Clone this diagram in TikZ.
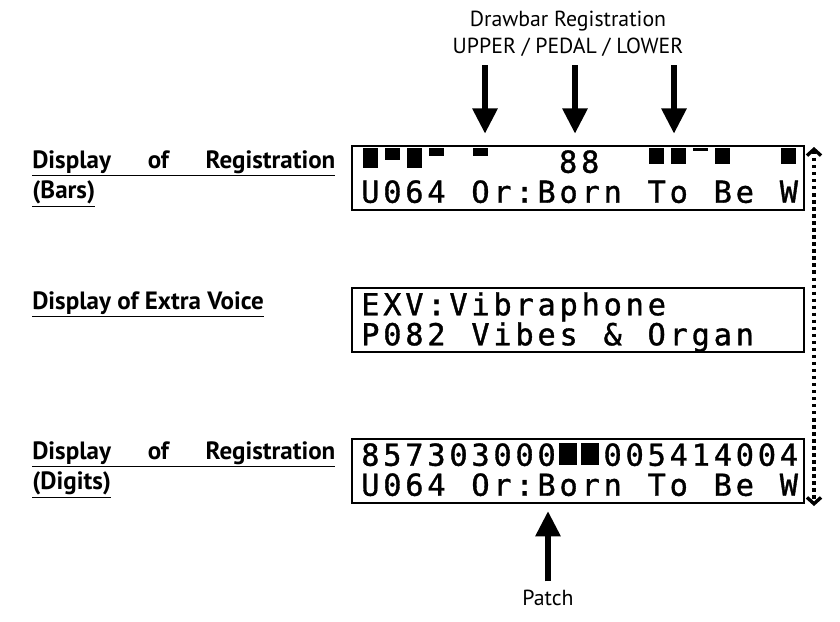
\documentclass[tikz,border=0pt]{standalone}
\usepackage{fontspec}
\setmainfont{PT Sans}
\newfontfamily\lcdfont[LetterSpace=12.7, FakeBold=1.2]{DejaVu Sans Mono}
\usetikzlibrary{arrows.meta}

% one LCD cell and the letter space inside a word
\newlength\lcdcell \setlength\lcdcell{15.63pt}
\newlength\lcdls \setlength\lcdls{2.73pt}
\newcommand\lcdsp[1][1]{\hspace*{\dimexpr#1\lcdcell+\lcdls\relax}}

\begin{document}
\begin{tikzpicture}[x=0.025cm, y=-0.025cm,
      every node/.style={inner sep=0pt},
      lcd/.style={rectangle, draw=black, line width=1.4pt, anchor=north west, minimum width=11.3cm, minimum height=1.6cm},
      lcdtext/.style={anchor=north west, align=left, font={\lcdfont\fontsize{21.5}{21.33}\selectfont\lineskiplimit=-40pt}},
      lbl/.style={anchor=north west, align=left, font={\bfseries\fontsize{17.8}{21.5}\selectfont}},
      caption/.style={align=center, font={\fontsize{15.5}{19}\selectfont}},
      bigarrow/.style={line width=4.3pt, -{Triangle[width=17pt, length=18pt]}},
      span/.style={line width=2.4pt, dash pattern=on 2.4pt off 2.6pt, {Straight Barb[length=4.5pt, width=10pt]}-{Straight Barb[length=4.5pt, width=10pt]}}
  ]
    \useasboundingbox (0,0) rectangle (840,621);

    % the three displays
    \node[lcd] (lcdbars) at (351,145) {};
    \node[lcd] (lcdexv) at (351,287) {};
    \node[lcd] (lcddigits) at (351,438) {};

    % bars
    \foreach \c/\h in {0/20,1/12,2/20,3/8,5/8,13/16,14/16,15/3,16/16,19/16} {
      \fill (363+22*\c,148) rectangle ++(15,\h);
    }
    \node[lcdtext] (barstext) at (361,150) {\hspace*{9\lcdcell}88\\U064\lcdsp Or:Born\lcdsp To\lcdsp Be\lcdsp W};

    \node[lcdtext] (exvtext) at (361,292) {EXV:Vibraphone\\P082\lcdsp Vibes\lcdsp \&\lcdsp Organ};

    \node[lcdtext] (digtext) at (361,443) {857303000\lcdsp[2]005414004\\U064\lcdsp Or:Born\lcdsp To\lcdsp Be\lcdsp W};
    \foreach \c in {9,10} {
      \fill (361+22*\c,443) rectangle ++(18,22);
    }

    % labels on the left
    \node[lbl] (lblbars) at (32,150) {\underline{\makebox[7.575cm][s]{Display of Registration}}\\\underline{(Bars)}};
    \node[lbl] (lblexv) at (32,291) {\underline{Display of Extra Voice}};
    \node[lbl] (lbldigits) at (32,441) {\underline{\makebox[7.575cm][s]{Display of Registration}}\\\underline{(Digits)}};

    % drawbar arrows
    \node[caption] (drawbar) at (568,34) {Drawbar Registration\\UPPER / PEDAL / LOWER};
    \coordinate (upper) at (485,0);
    \coordinate (pedal) at (575,0);
    \coordinate (lower) at (674,0);
    \foreach \x in {upper,pedal,lower} {
      \draw[bigarrow] ([yshift=-6pt]\x |- drawbar.south) -- ([yshift=8pt]\x |- lcdbars.north);
    }

    % patch arrow
    \node[caption] (patch) at (548,598) {Patch};
    \coordinate (patchx) at (548,0);
    \draw[bigarrow] ([yshift=6pt]patchx |- patch.north) -- ([yshift=-5pt]patchx |- lcddigits.south);

    % range arrow
    \coordinate (spantop) at (814,147);
    \coordinate (spanbot) at (814,506);
    \draw[span] (spantop) -- (spanbot);
  \end{tikzpicture}
\end{document}
